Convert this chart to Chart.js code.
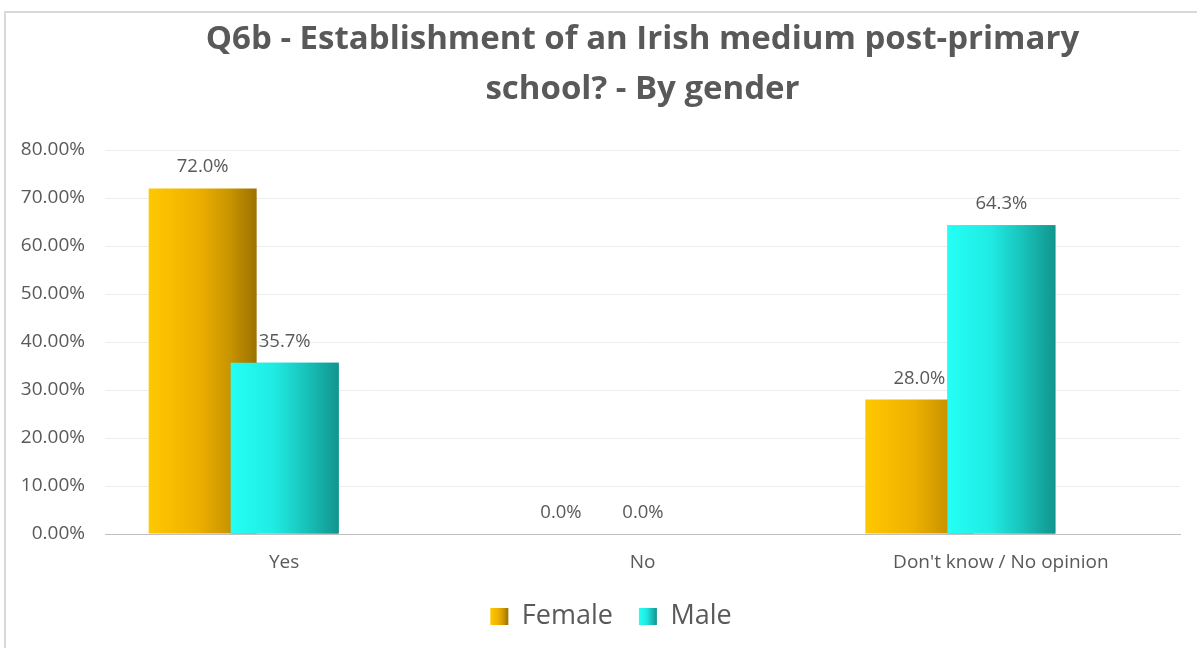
<!DOCTYPE html>
<html>
<head>
<meta charset="utf-8">
<script src="https://cdn.jsdelivr.net/npm/chart.js@4.4.1/dist/chart.umd.min.js"></script>
<style>
  html, body { margin: 0; padding: 0; background: #ffffff; width: 1197px; height: 648px; overflow: hidden; }
  #frame { position: absolute; left: 4px; top: 11px; width: 1193px; height: 637px; box-sizing: border-box;
           border-top: 2px solid #d9d9d9; border-left: 2px solid #d9d9d9; }
  #box { position: absolute; left: 6px; top: 13px; width: 1191px; height: 635px; }
</style>
</head>
<body>
<div id="frame"></div>
<div id="box"><canvas id="c"></canvas></div>
<script>
// ---- data ----
const categories = ["Yes", "No", "Don't know / No opinion"];
const seriesNames = ["Female", "Male"];
const femaleValues = [72.0, 0.0, 28.0];
const maleValues = [35.7, 0.0, 64.3];
const yTickValues = [0, 10, 20, 30, 40, 50, 60, 70, 80];
const titleLines = ["Q6b - Establishment of an Irish medium post-primary", "school? - By gender"];

// ---- styles ----
const FONT = "'Open Sans', sans-serif";
const TEXT = "#595959";
const gradientStops = [
  [[0, "#ffc800"], [0.45, "#eeb000"], [0.75, "#c99400"], [1, "#9c7100"]],
  [[0, "#24fff5"], [0.4, "#20ebe3"], [0.7, "#18c2ba"], [1, "#11958e"]]
];
const flatColors = ["#e5aa00", "#1ad6cd"];
const LEGEND_SHIFT = 18;

function makeGradient(ctx, x0, x1, stops) {
  const g = ctx.createLinearGradient(x0, 0, x1, 0);
  stops.forEach(s => g.addColorStop(s[0], s[1]));
  return g;
}

const gradientPlugin = {
  id: 'gradients',
  afterLayout(chart) {
    if (chart.legend) {
      chart.legend.left += LEGEND_SHIFT;
      chart.legend.right += LEGEND_SHIFT;
      chart.legend.top += 2;
      chart.legend.bottom += 2;
    }
  },
  beforeDraw(chart) {
    const ctx = chart.ctx;
    if (chart.legend && chart.legend.legendItems && chart.legend.legendHitBoxes) {
      const bw = chart.legend.options.labels.boxWidth;
      chart.legend.legendItems.forEach((item, i) => {
        const hb = chart.legend.legendHitBoxes[i];
        if (hb) item.fillStyle = makeGradient(ctx, hb.left, hb.left + bw, gradientStops[i]);
        item.lineWidth = 0;
        item.strokeStyle = 'rgba(0,0,0,0)';
      });
    }
  },
  beforeDatasetsDraw(chart) {
    const ctx = chart.ctx;
    chart.data.datasets.forEach((ds, di) => {
      const meta = chart.getDatasetMeta(di);
      meta.data.forEach(el => {
        const p = el.getProps(['x', 'width'], true);
        el.options.backgroundColor = makeGradient(ctx, p.x - p.width / 2, p.x + p.width / 2, gradientStops[di]);
      });
    });
  },
  afterDatasetsDraw(chart) {
    // Male bars overlap the Female bars (drawn on top), as in the original
    chart.getDatasetMeta(1).controller.draw();
  }
};

const valueLabelPlugin = {
  id: 'valueLabels',
  afterDatasetsDraw(chart) {
    const ctx = chart.ctx;
    ctx.save();
    ctx.font = "18.5px " + FONT;
    ctx.fillStyle = TEXT;
    ctx.textAlign = 'center';
    ctx.textBaseline = 'alphabetic';
    chart.data.datasets.forEach((ds, di) => {
      const meta = chart.getDatasetMeta(di);
      meta.data.forEach((el, i) => {
        const p = el.getProps(['x', 'y'], true);
        ctx.fillText(ds.data[i].y.toFixed(1) + '%', p.x, p.y - 16);
      });
    });
    ctx.restore();
  }
};

const seriesValues = [femaleValues, maleValues];
const datasets = seriesNames.map((name, si) => ({
  label: name,
  data: seriesValues[si].map((v, i) => ({ x: i, y: v })),
  xAxisID: 'xb',
  backgroundColor: () => flatColors[si],
  borderWidth: 0,
  categoryPercentage: 0.4577,
  barPercentage: 1.317
}));

new Chart(document.getElementById('c'), {
  type: 'bar',
  data: { labels: categories, datasets },
  plugins: [gradientPlugin, valueLabelPlugin],
  options: {
    responsive: true,
    maintainAspectRatio: false,
    animation: false,
    layout: { padding: { left: 0, right: 17, top: 0, bottom: 10 } },
    scales: {
      x: {
        type: 'category',
        labels: categories,
        position: 'bottom',
        grid: { display: false },
        border: { display: true, color: '#bfbfbf', width: 1 },
        ticks: { color: TEXT, font: { family: FONT, size: 19 }, padding: 9, maxRotation: 0 },
        afterFit(s) { s.height = 41; }
      },
      xb: {
        type: 'linear',
        display: false,
        offset: false,
        position: 'bottom',
        min: -0.387,
        max: 2.613,
        afterBuildTicks(s) { s.ticks = categories.map((c, i) => ({ value: i })); }
      },
      y: {
        min: 0,
        max: 80,
        grid: { color: '#eeeeee', drawTicks: false },
        border: { display: false },
        afterBuildTicks(s) { s.ticks = yTickValues.map(v => ({ value: v })); },
        ticks: {
          color: TEXT,
          font: { family: FONT, size: 19 },
          padding: 20,
          callback: v => v.toFixed(2) + '%'
        },
        afterFit(s) { s.width = 99; }
      }
    },
    plugins: {
      title: {
        display: true,
        text: titleLines,
        color: TEXT,
        fullSize: false,
        font: { family: FONT, size: 33, weight: 'bold', lineHeight: 1.5 },
        padding: { top: 2, bottom: 36 }
      },
      legend: {
        position: 'bottom',
        labels: {
          color: TEXT,
          font: { family: FONT, size: 27 },
          boxWidth: 18,
          boxHeight: 17,
          padding: 26
        }
      },
      tooltip: { enabled: false }
    }
  }
});
</script>
</body>
</html>
